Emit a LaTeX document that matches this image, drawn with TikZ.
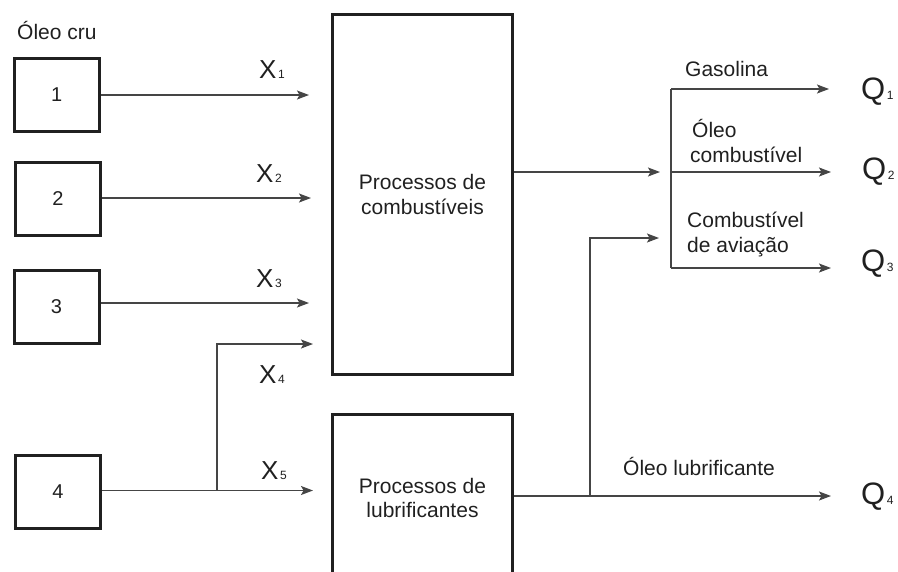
\documentclass[tikz,border=0pt]{standalone}
\usepackage{fontspec}
\setmainfont{Liberation Sans}
\usetikzlibrary{arrows.meta,calc}
\definecolor{ink}{HTML}{202020}
\definecolor{wire}{HTML}{454545}
\newcommand\lowidx[1]{\hspace{1.5pt}{\fontsize{12}{12}\selectfont #1}}
\begin{document}
\begin{tikzpicture}[x=1pt,y=-1pt,
  unit/.style={draw=ink,line width=3pt,minimum width=85pt,minimum height=73pt,
    inner sep=0pt,anchor=north west,font=\fontsize{20}{24}\selectfont,text=ink},
  plant/.style={draw=ink,line width=3pt,minimum width=180pt,inner sep=0pt,
    anchor=north west,align=center,font=\fontsize{21}{24.5}\selectfont,text=ink},
  flow/.style={draw=wire,line width=1.2pt,-{Stealth[length=12pt,width=9pt,inset=2.5pt]}},
  pipe/.style={draw=wire,line width=1.2pt},
  lbl/.style={anchor=base west,inner sep=0pt,font=\fontsize{21}{25}\selectfont,text=ink},
  var/.style={anchor=base west,inner sep=0pt,font=\fontsize{26}{26}\selectfont,text=ink},
  prod/.style={anchor=base west,inner sep=0pt,font=\fontsize{31}{31}\selectfont,text=ink},
]
\useasboundingbox (0,0) rectangle (898,571);

% crude oil sources
\node[lbl] (crude) at (17,39) {Óleo cru};
\node[unit] (u1) at (12.7,57) {1};
\node[unit] (u2) at (14,161) {2};
\node[unit] (u3) at (12.5,268.5) {3};
\node[unit] (u4) at (14,454) {4};

% processing plants
\node[plant,minimum height=360pt] (comb) at (331,13) {Processos de\\combustíveis};
\node[plant,minimum height=167pt] (lube) at (331,413) {Processos de\\lubrificantes};

% feed streams
\coordinate (e1) at (309,95);
\coordinate (e2) at (311,198);
\coordinate (e3) at (309,303);
\coordinate (e4) at (313,344);
\coordinate (e5) at (313,490.5);
\coordinate (j4) at (217,490.5);
\draw[flow] (u1.east |- e1) -- (e1);
\draw[flow] (u2.east |- e2) -- (e2);
\draw[flow] (u3.east |- e3) -- (e3);
\draw[flow] (u4.east |- e5) -- (e5);
\draw[flow] (j4) |- (e4);

\node[var] (x1) at (259,78) {X\lowidx{1}};
\node[var] (x2) at (256,182) {X\lowidx{2}};
\node[var] (x3) at (256,287) {X\lowidx{3}};
\node[var] (x4) at (259,383) {X\lowidx{4}};
\node[var] (x5) at (261,479) {X\lowidx{5}};

% fuel products
\coordinate (cin) at (660,172);
\coordinate (htop) at (671,89);
\coordinate (hmid) at (671,172);
\coordinate (hbot) at (671,268);
\coordinate (q1e) at (829,89);
\coordinate (q2e) at (831,172);
\coordinate (q3e) at (831,268);
\draw[flow] (comb.east |- cin) -- (cin);
\draw[pipe] (htop) -- (hbot);
\draw[flow] (htop) -- (q1e);
\draw[flow] (hmid) -- (q2e);
\draw[flow] (hbot) -- (q3e);

% lubricant product and its by-pass to the fuel pool
\coordinate (lj) at (590,496);
\coordinate (q4e) at (831,496);
\coordinate (lin) at (659,238);
\draw[flow] (lube.east |- q4e) -- (q4e);
\draw[flow] (lj) |- (lin);

\node[lbl] (gas) at (685,76) {Gasolina};
\node[lbl] (fo1) at (692,137) {Óleo};
\node[lbl] (fo2) at (690,162) {combustível};
\node[lbl] (jf1) at (687,227) {Combustível};
\node[lbl] (jf2) at (687,252) {de aviação};
\node[lbl] (lo) at (623,475) {Óleo lubrificante};

\node[prod] (q1) at (861,99) {Q\lowidx{1}};
\node[prod] (q2) at (862,179) {Q\lowidx{2}};
\node[prod] (q3) at (861,271) {Q\lowidx{3}};
\node[prod] (q4) at (861,504) {Q\lowidx{4}};
\end{tikzpicture}
\end{document}
